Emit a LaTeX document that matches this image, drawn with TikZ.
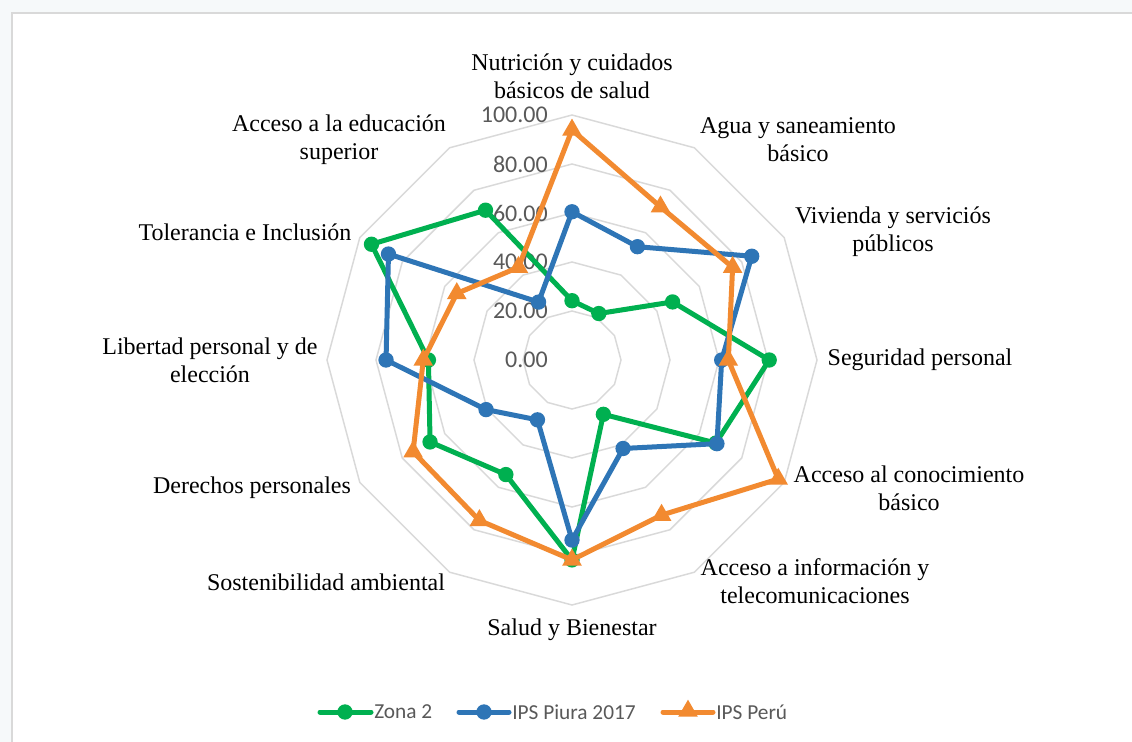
\documentclass[tikz,border=0pt]{standalone}
\usepackage{fontspec}
\setmainfont{Liberation Serif}
\newfontfamily\calib{Carlito}
\usetikzlibrary{shapes.geometric}
\definecolor{zcol}{HTML}{00B050}
\definecolor{bcol}{HTML}{2E75B6}
\definecolor{ocol}{HTML}{F28A30}
\definecolor{gridgray}{HTML}{D9D9D9}
\definecolor{tickgray}{HTML}{595959}
\definecolor{outside}{HTML}{F6F9FA}
\tikzset{
  ring/.style={draw=gridgray, line width=1.1pt},
  series/.style={line width=3.75pt, line join=round},
  dotmark/.style={circle, inner sep=0pt, minimum size=11.5pt, fill=#1},
  trimark/.style={regular polygon, regular polygon sides=3, inner sep=0pt, minimum size=17pt, fill=#1},
  cat/.style={font=\fontsize{18}{21}\selectfont, align=center, inner sep=0pt, text=black},
  ticklab/.style={font=\calib\fontsize{18}{21}\selectfont, text=tickgray, anchor=east, inner sep=0pt},
  leglab/.style={font=\calib\fontsize{16}{19}\selectfont, text=tickgray, anchor=west, inner sep=0pt},
  legline/.style={line width=3.75pt, line cap=round},
}
\begin{document}
\begin{tikzpicture}[x=0.75pt,y=-0.75pt]
\useasboundingbox (0,0) rectangle (1132,742);
\clip (0,0) rectangle (1132,742);
\fill[outside] (0,0) rectangle (1132,742);
\fill[white] (12,13) rectangle (1140,750);
\draw[gridgray, line width=1.1pt] (12,750) -- (12,13) -- (1140,13);

% rings
\foreach \r in {20,40,60,80,100}{
  \draw[ring] plot[samples at={0,30,...,330}, variable=\a] ({572+2.45*\r*cos(\a)},{360-2.45*\r*sin(\a)}) -- cycle;
}

% tick labels
\foreach \t/\y in {0.00/360,20.00/311,40.00/262,60.00/213,80.00/164,100.00/115}{
  \node[ticklab] (tick\t) at (548,\y) {\t};
}

% category labels
\node[cat] (c0) at (572,76) {Nutrición y cuidados\\básicos de salud};
\node[cat] (c1) at (798,140) {Agua y saneamiento\\básico};
\node[cat] (c2) at (893,232) {Vivienda y serviciós\\públicos};
\node[cat] (c3) at (920,360) {Seguridad personal};
\node[cat] (c4) at (909,488) {Acceso al conocimiento\\básico};
\node[cat] (c5) at (815,581) {Acceso a información y\\telecomunicaciones};
\node[cat] (c6) at (572,630) {Salud y Bienestar};
\node[cat] (c7) at (326,582) {Sostenibilidad ambiental};
\node[cat] (c8) at (252,488) {Derechos personales};
\node[cat] (c9) at (210,360) {Libertad personal y de\\elección};
\node[cat] (c10) at (245,232) {Tolerancia e Inclusión};
\node[cat] (c11) at (339,140) {Acceso a la educación\\superior};

% data coordinates
\foreach \v [count=\i from 0] in {24.2,21.9,47.4,80.5,67.8,25.6,81.6,54.0,66.9,58.6,94.5,70.6}
  \coordinate (z\i) at ({572+2.45*\v*cos(90-30*\i)},{360-2.45*\v*sin(90-30*\i)});
\foreach \v [count=\i from 0] in {60.5,53.4,84.7,61.1,68.3,41.7,73.5,28.2,40.5,75.9,86.5,27.3}
  \coordinate (b\i) at ({572+2.45*\v*cos(90-30*\i)},{360-2.45*\v*sin(90-30*\i)});
\foreach \v [count=\i from 0] in {93.9,72.2,75.7,63.8,97.2,73.1,81.6,75.6,74.9,60.7,54.3,43.7}
  \coordinate (o\i) at ({572+2.45*\v*cos(90-30*\i)},{360-2.45*\v*sin(90-30*\i)});

% Zona 2
\draw[series, zcol] (z0) \foreach \i in {1,...,11}{ -- (z\i)} -- cycle;
\foreach \i in {0,...,11} \node[dotmark=zcol] (zm\i) at (z\i) {};
% IPS Piura 2017
\draw[series, bcol] (b0) \foreach \i in {1,...,11}{ -- (b\i)} -- cycle;
\foreach \i in {0,...,11} \node[dotmark=bcol] (bm\i) at (b\i) {};
% IPS Peru
\draw[series, ocol] (o0) \foreach \i in {1,...,11}{ -- (o\i)} -- cycle;
\foreach \i in {0,...,11} \node[trimark=ocol] (om\i) at (o\i) {};

% legend
\coordinate (lz1) at (320,712); \coordinate (lz2) at (371,712);
\coordinate (lb1) at (459,712); \coordinate (lb2) at (509,712);
\coordinate (lo1) at (663,712); \coordinate (lo2) at (713,712);
\draw[legline, zcol] (lz1) -- (lz2);
\node[dotmark=zcol] (lzm) at (345,712) {};
\node[leglab] (lzt) at (374,712) {Zona 2};
\draw[legline, bcol] (lb1) -- (lb2);
\node[dotmark=bcol] (lbm) at (484,712) {};
\node[leglab] (lbt) at (512,712) {IPS Piura 2017};
\draw[legline, ocol] (lo1) -- (lo2);
\node[trimark=ocol] (lom) at (688,711) {};
\node[leglab] (lot) at (716,712) {IPS Perú};
\end{tikzpicture}
\end{document}
